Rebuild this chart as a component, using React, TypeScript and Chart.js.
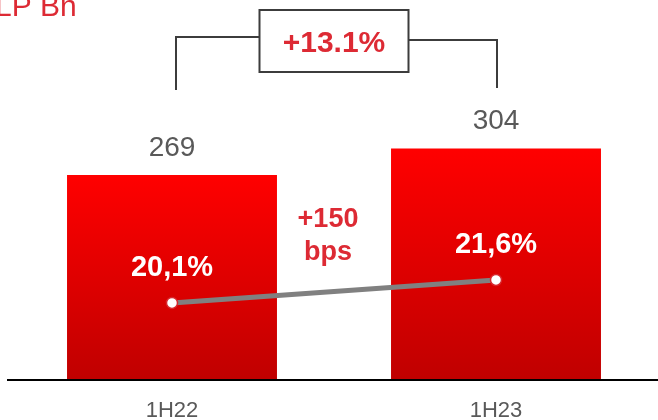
import React, { useEffect, useRef } from "react";
import { Chart, registerables } from "chart.js";

Chart.register(...registerables);

// Half-year periods and their values
const categories = ["1H22", "1H23"];
const revenue = [269, 304];
const margin = [20.1, 21.6];
const marginLabels = ["20,1%", "21,6%"];
const growthLabel = "+13.1%";
const spreadLabel = ["+150", "bps"];
const unitLabel = "LP Bn";

const FONT = "'Liberation Sans', Arial, Helvetica, sans-serif";
const RED_TEXT = "#DD2A34";
const GREY_TEXT = "#595959";
const LINE_GREY = "#3c3c3c";

const annotations = {
  id: "annotations",
  afterDatasetsDraw(chart: any) {
    const { ctx, chartArea } = chart;
    const bars = chart.getDatasetMeta(1).data;
    const points = chart.getDatasetMeta(0).data;
    ctx.save();
    ctx.textAlign = "center";
    ctx.textBaseline = "middle";

    // bar totals
    ctx.fillStyle = GREY_TEXT;
    ctx.font = `28px ${FONT}`;
    bars.forEach((b: any, i: number) => {
      ctx.fillText(String(revenue[i]), b.x, b.y - 27);
    });

    // margin labels above the points
    ctx.fillStyle = "#ffffff";
    ctx.font = `bold 29px ${FONT}`;
    points.forEach((p: any, i: number) => {
      ctx.fillText(marginLabels[i], p.x, p.y - 35);
    });

    // margin change between the bars
    const midX = (bars[0].x + bars[1].x) / 2;
    ctx.fillStyle = RED_TEXT;
    ctx.font = `bold 27px ${FONT}`;
    ctx.fillText(spreadLabel[0], midX - 6, 220);
    ctx.fillText(spreadLabel[1], midX - 6, 253);

    // growth bracket
    const lx = bars[0].x + 4;
    const rx = bars[1].x + 1;
    const boxW = 149;
    const boxL = midX - boxW / 2;
    const boxR = midX + boxW / 2;
    ctx.strokeStyle = LINE_GREY;
    ctx.lineWidth = 2;
    ctx.beginPath();
    ctx.moveTo(lx, 90);
    ctx.lineTo(lx, 37);
    ctx.lineTo(boxL, 37);
    ctx.moveTo(boxR, 40);
    ctx.lineTo(rx, 40);
    ctx.lineTo(rx, 88);
    ctx.stroke();
    ctx.strokeRect(boxL, 10, boxW, 62);
    ctx.fillStyle = RED_TEXT;
    ctx.font = `bold 30px ${FONT}`;
    ctx.fillText(growthLabel, midX, 44);

    // unit label
    ctx.textAlign = "left";
    ctx.textBaseline = "alphabetic";
    ctx.font = `30px ${FONT}`;
    ctx.fillText(unitLabel, -5, 16);

    // baseline
    ctx.strokeStyle = "#000000";
    ctx.lineWidth = 2;
    ctx.beginPath();
    ctx.moveTo(7, chartArea.bottom + 1);
    ctx.lineTo(chart.width, chartArea.bottom + 1);
    ctx.stroke();
    ctx.restore();
  },
};

function barGradient(context: any) {
  const chart = context.chart;
  const { ctx, chartArea, scales } = chart;
  if (!chartArea || !scales.y) return "#e00000";
  const v = context.raw as number;
  const top = scales.y.getPixelForValue(v);
  const bottom = scales.y.getPixelForValue(0);
  const g = ctx.createLinearGradient(0, top, 0, bottom);
  g.addColorStop(0, "#ff0000");
  g.addColorStop(1, "#c00000");
  return g;
}

export default function App() {
  const canvasRef = useRef<HTMLCanvasElement>(null);

  useEffect(() => {
    if (!canvasRef.current) return;
    const chart = new Chart(canvasRef.current, {
      type: "bar",
      data: {
        labels: categories,
        datasets: [
          {
            type: "line",
            label: "Margin",
            data: margin,
            yAxisID: "y2",
            order: 0,
            borderColor: "#808080",
            borderWidth: 5,
            pointRadius: 5.5,
            pointBorderWidth: 1.5,
            pointBackgroundColor: "#ffffff",
            pointBorderColor: "#d8262c",
            tension: 0,
          } as any,
          {
            type: "bar",
            label: "Revenue",
            data: revenue,
            yAxisID: "y",
            order: 1,
            backgroundColor: barGradient,
            borderWidth: 0,
            categoryPercentage: 1,
            barPercentage: 0.648,
          } as any,
        ],
      },
      options: {
        responsive: false,
        animation: false,
        devicePixelRatio: 1,
        layout: { autoPadding: false, padding: { left: 10, right: 0, top: 0, bottom: 0 } },
        plugins: {
          legend: { display: false },
          tooltip: { enabled: false },
        },
        scales: {
          x: {
            grid: { display: false, drawTicks: false },
            border: { display: false },
            ticks: {
              color: GREY_TEXT,
              padding: 21,
              font: { family: FONT, size: 22, lineHeight: 1 },
            },
            afterFit: (scale: any) => {
              scale.height = 41;
            },
          },
          y: { display: false, min: 0, max: 500 },
          y2: { display: false, min: 15.14, max: 39.86 },
        },
      },
      plugins: [annotations],
    });
    return () => chart.destroy();
  }, []);

  return (
    <div style={{ position: "absolute", left: 0, top: 0, width: 658, height: 420, background: "#ffffff" }}>
      <canvas ref={canvasRef} width={658} height={420} />
    </div>
  );
}
